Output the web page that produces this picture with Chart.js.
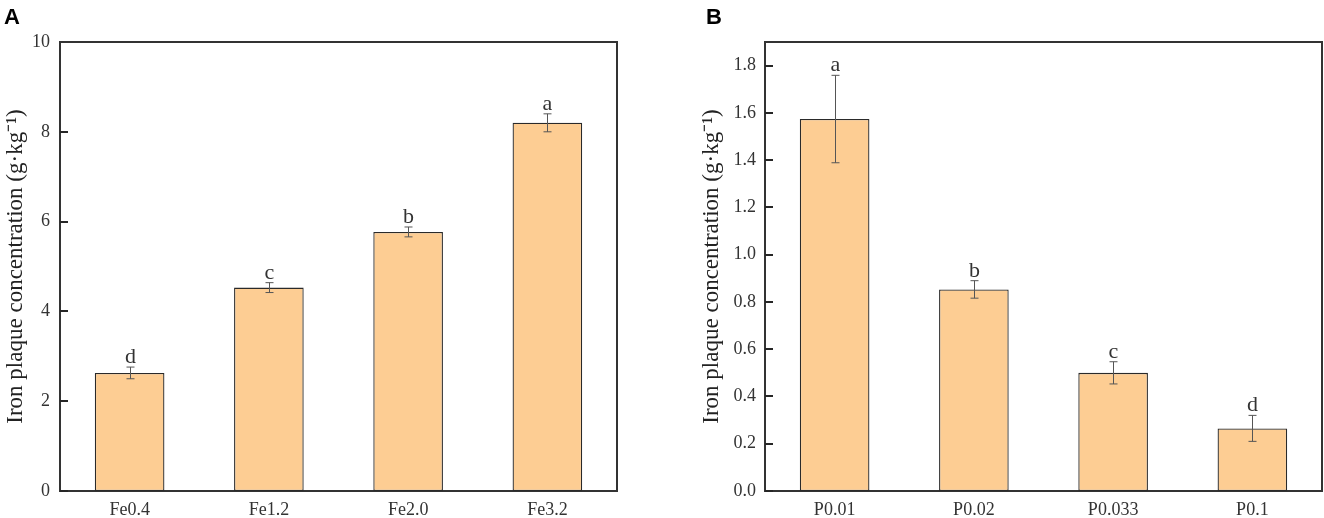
<!DOCTYPE html>
<html><head><meta charset="utf-8">
<script src="https://cdn.jsdelivr.net/npm/chart.js@4.4.1/dist/chart.umd.min.js"></script>
<style>
html,body{margin:0;padding:0;background:#fff;width:1324px;height:518px;overflow:hidden}
.panel{position:absolute;top:0;height:518px}
</style></head><body>
<div class="panel" style="left:0;width:660px"><canvas id="cA"></canvas></div>
<div class="panel" style="left:660px;width:664px"><canvas id="cB"></canvas></div>
<script>
// ---- Data ----
const categoriesA = ['Fe0.4', 'Fe1.2', 'Fe2.0', 'Fe3.2'];
const valuesA = [2.63, 4.53, 5.77, 8.20];
const errorsA = [0.13, 0.11, 0.11, 0.20];
const lettersA = ['d', 'c', 'b', 'a'];

const categoriesB = ['P0.01', 'P0.02', 'P0.033', 'P0.1'];
const valuesB = [1.574, 0.853, 0.500, 0.265];
const errorsB = [0.185, 0.037, 0.047, 0.055];
const lettersB = ['a', 'b', 'c', 'd'];

const yTitle = 'Iron plaque concentration (g·kg⁻¹)';

const BAR_FILL = '#FDCD93';
const DARK = '#333333';

const annotate = {
  id: 'annotate',
  afterDraw(chart, args, opts) {
    const ctx = chart.ctx, xs = chart.scales.x, ys = chart.scales.y, ca = chart.chartArea;
    const vals = opts.values, errs = opts.errors, letters = opts.letters;
    ctx.save();
    // inward y tick marks
    ctx.fillStyle = '#262626';
    ys.ticks.forEach(t => {
      const py = Math.round(ys.getPixelForValue(t.value));
      ctx.fillRect(ca.left, py - 1, 8, 2);
    });
    vals.forEach((v, i) => {
      const cx = Math.round(xs.getPixelForValue(i)) + 0.5;
      const yt = ys.getPixelForValue(v + errs[i]);
      const yb = ys.getPixelForValue(v - errs[i]);
      ctx.strokeStyle = '#555';
      ctx.lineWidth = 1;
      ctx.beginPath();
      ctx.moveTo(cx, yt); ctx.lineTo(cx, yb);
      ctx.moveTo(cx - 4, yt); ctx.lineTo(cx + 4, yt);
      ctx.moveTo(cx - 4, yb); ctx.lineTo(cx + 4, yb);
      ctx.stroke();
      ctx.fillStyle = DARK;
      ctx.font = '22px "Liberation Serif"';
      ctx.textAlign = 'center';
      ctx.textBaseline = 'alphabetic';
      ctx.fillText(letters[i], cx, yt - 4);
    });
    ctx.strokeStyle = DARK;
    ctx.lineWidth = 2;
    ctx.beginPath();
    ctx.moveTo(ca.left, ca.top);
    ctx.lineTo(ca.right, ca.top);
    ctx.lineTo(ca.right, ca.bottom);
    ctx.stroke();
    ctx.fillStyle = '#000';
    ctx.font = 'bold 22px "Liberation Sans"';
    ctx.textAlign = 'left';
    ctx.fillText(opts.panel, opts.panelX, 24);
    ctx.restore();
  }
};

function makeChart(id, cats, vals, errs, letters, yOpts, axisWidth, titlePad, padRight, panel, panelX) {
  return new Chart(document.getElementById(id), {
    type: 'bar',
    data: {
      labels: cats,
      datasets: [{
        data: vals,
        backgroundColor: BAR_FILL,
        borderColor: '#2a2a2a',
        borderWidth: 1.3,
        borderSkipped: false,
        categoryPercentage: 1.0,
        barPercentage: 0.5
      }]
    },
    options: {
      responsive: true,
      maintainAspectRatio: false,
      animation: false,
      layout: { padding: { top: 42, right: padRight, left: 0, bottom: 0 } },
      plugins: {
        legend: { display: false },
        tooltip: { enabled: false },
        annotate: { values: vals, errors: errs, letters: letters, panel: panel, panelX: panelX }
      },
      scales: {
        x: {
          grid: { display: false, drawTicks: false },
          border: { display: true, color: DARK, width: 2 },
          ticks: { padding: 8, color: DARK, font: { family: 'Liberation Serif', size: 18 } },
          afterFit(s) { s.height = 27; }
        },
        y: Object.assign({
          grid: { display: false, drawTicks: false },
          border: { display: true, color: DARK, width: 2 },
          title: {
            display: true, text: yTitle, color: '#222',
            font: { family: 'Liberation Serif', size: 23 },
            padding: { top: titlePad, bottom: 0 }
          },
          afterFit(s) { s.width = axisWidth; }
        }, yOpts)
      }
    },
    plugins: [annotate]
  });
}

makeChart('cA', categoriesA, valuesA, errorsA, lettersA, {
  min: 0, max: 10,
  ticks: { stepSize: 2, padding: 10, color: DARK, font: { family: 'Liberation Serif', size: 18 } }
}, 60, 2, 43, 'A', 4);

makeChart('cB', categoriesB, valuesB, errorsB, lettersB, {
  min: 0, max: 1.9,
  ticks: { stepSize: 0.2, padding: 9, color: DARK, font: { family: 'Liberation Serif', size: 18 },
    callback: v => Number(v).toFixed(1) },
  afterBuildTicks(s) {
    s.ticks = s.ticks.filter(t => Math.abs(t.value * 5 - Math.round(t.value * 5)) < 1e-6);
  }
}, 105, 38, 2, 'B', 46);
</script>
</body></html>
